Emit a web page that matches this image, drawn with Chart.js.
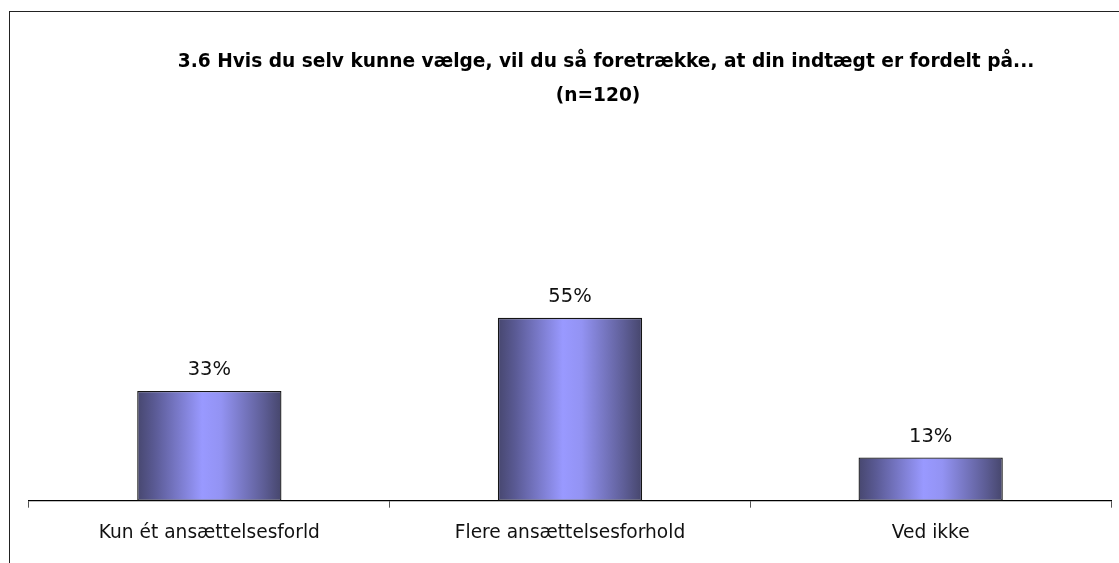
<!DOCTYPE html>
<html>
<head>
<meta charset="utf-8">
<script src="https://cdn.jsdelivr.net/npm/chart.js@4.4.1/dist/chart.umd.min.js"></script>
<style>
  html, body { margin: 0; padding: 0; background: #fff; }
  #wrap { position: relative; width: 1119px; height: 563px; overflow: hidden; }
  #frame { position: absolute; left: 9px; top: 11px; width: 1300px; height: 700px; border: 1.5px solid #222; box-sizing: border-box; }
  #c { position: absolute; left: 0; top: 0; }
</style>
</head>
<body>
<div id="wrap">
  <div id="frame"></div>
  <canvas id="c" width="1119" height="563"></canvas>
</div>
<script>
// === DATA ===
const titleLines = ["3.6 Hvis du selv kunne vælge, vil du så foretrække, at din indtægt er fordelt på...", "(n=120)"];
const categories = ["Kun ét ansættelsesforld", "Flere ansættelsesforhold", "Ved ikke"];
const values = [33, 55, 13];

const FONT = "'DejaVu Sans', Tahoma, Verdana, sans-serif";

// vandret gradient pr. søjle (mørk kant, lys midte)
function barGradient(c) {
    const chart = c.chart;
    const xs = chart.scales.x;
    if (!xs || !chart.chartArea || c.dataIndex === undefined) return '#9999ff';
    const cx = xs.getPixelForValue(c.dataIndex);
    const half = xs.width / categories.length * 0.8 * 0.5 / 2;
    const g = chart.ctx.createLinearGradient(cx - half, 0, cx + half, 0);
    g.addColorStop(0, '#47476f');
    g.addColorStop(0.12, '#5a5a94');
    g.addColorStop(0.45, '#9999ff');
    g.addColorStop(0.58, '#9393f3');
    g.addColorStop(0.88, '#5d5d95');
    g.addColorStop(1, '#46466c');
    return g;
}

// titel tegnes selv (centreret lidt til højre som i originalen)
const titlePlugin = {
    id: 'titleText',
    afterDraw(chart) {
        const ctx = chart.ctx;
        ctx.save();
        ctx.font = "bold 18.6px " + FONT;
        ctx.fillStyle = '#000';
        ctx.textAlign = 'center';
        ctx.textBaseline = 'middle';
        ctx.fillText(titleLines[0], 606, 62);
        ctx.fillText(titleLines[1], 598, 96);
        ctx.restore();
    }
};

// procent over søjlerne
const valueLabels = {
    id: 'valueLabels',
    afterDatasetsDraw(chart) {
        const ctx = chart.ctx;
        const meta = chart.getDatasetMeta(0);
        ctx.save();
        ctx.font = "19.5px " + FONT;
        ctx.fillStyle = '#111';
        ctx.textAlign = 'center';
        ctx.textBaseline = 'middle';
        meta.data.forEach((bar, i) => {
            ctx.fillText(values[i] + '%', bar.x, bar.y - 21);
        });
        ctx.restore();
    }
};

new Chart(document.getElementById('c'), {
    type: 'bar',
    data: {
        labels: categories,
        datasets: [{
            data: values,
            backgroundColor: barGradient,
            borderColor: '#151515',
            borderWidth: 1.3,
            borderSkipped: false,
            categoryPercentage: 0.8,
            barPercentage: 0.5
        }]
    },
    options: {
        responsive: false,
        animation: false,
        layout: { padding: { left: 29, right: 8, top: 135, bottom: 5 } },
        scales: {
            x: {
                grid: { display: true, drawOnChartArea: false, tickLength: 7, color: '#555', offset: true },
                border: { display: true, color: '#000', width: 1.3 },
                ticks: { font: { family: FONT, size: 18.6 }, color: '#111', padding: 14 }
            },
            y: { display: false, min: 0, max: 110 }
        },
        plugins: { legend: { display: false }, tooltip: { enabled: false } }
    },
    plugins: [titlePlugin, valueLabels]
});
</script>
</body>
</html>
